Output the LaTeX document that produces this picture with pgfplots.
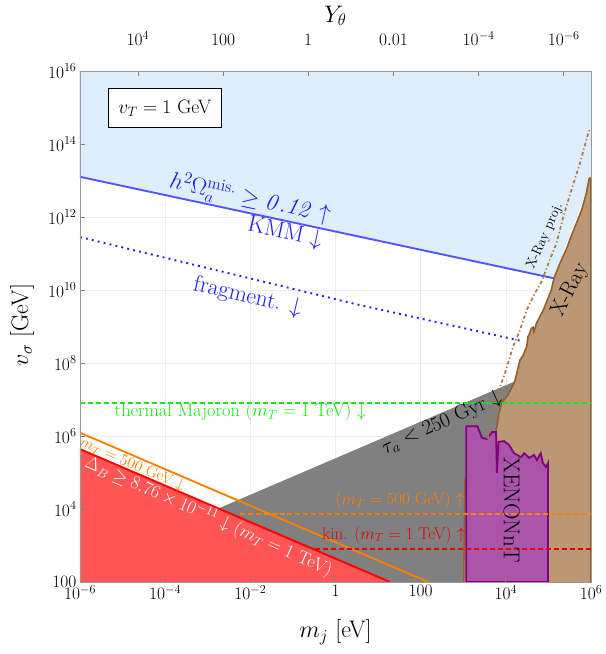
\RequirePackage{fix-cm}
\documentclass[border=0pt]{standalone}
\usepackage{pgfplots}
\pgfplotsset{compat=1.18}

\definecolor{skyfill}{RGB}{222,238,252}
\definecolor{kmmblue}{RGB}{85,85,255}
\definecolor{txtblue}{RGB}{30,30,240}
\definecolor{majgreen}{RGB}{20,235,20}
\definecolor{redfill}{RGB}{255,85,85}
\definecolor{lineorange}{RGB}{255,128,0}
\definecolor{xefill}{RGB}{170,85,170}
\definecolor{xeedge}{RGB}{128,0,128}
\definecolor{xrfill}{RGB}{187,151,117}
\definecolor{xredge}{RGB}{150,95,40}
\definecolor{xrproj}{RGB}{175,120,60}
\definecolor{gridc}{RGB}{236,236,236}

\newcommand\fs[1]{\fontsize{#1}{#1}\selectfont}

\begin{document}
\begin{tikzpicture}
\path[use as bounding box] (0,0) rectangle (606bp,654bp);

\begin{axis}[
  at={(80bp,72bp)}, anchor=south west,
  scale only axis, width=511bp, height=511bp,
  xmode=log, ymode=log,
  xmin=1e-6, xmax=1e6, ymin=100, ymax=1e16,
  axis on top,
  xtick={1e-6,1e-4,1e-2,1,100,1e4,1e6},
  xticklabels={$10^{-6}$,$10^{-4}$,$10^{-2}$,$1$,$100$,$10^{4}$,$10^{6}$},
  ytick={1e2,1e4,1e6,1e8,1e10,1e12,1e14,1e16},
  yticklabels={$100$,$10^{4}$,$10^{6}$,$10^{8}$,$10^{10}$,$10^{12}$,$10^{14}$,$10^{16}$},
  xtick pos=bottom, ytick pos=left,
  tick align=inside, major tick length=5bp, minor tick length=0pt,
  tick style={gray, line width=0.7pt},
  axis line style={gray!80, line width=0.9pt},
  tick label style={font=\fs{17.5}},
  xlabel={$m_j$ [eV]}, ylabel={$v_\sigma$ [GeV]},
  label style={font=\fs{24}},
  xlabel style={at={(axis description cs:0.5,-0.098)}, anchor=center},
  ylabel style={at={(axis description cs:-0.113,0.503)}, anchor=center},
]
% grid behind everything
\pgfplotsinvokeforeach{1e-4,1e-2,1,100,1e4}{\draw[gridc, line width=0.6pt] (axis cs:#1,100) -- (axis cs:#1,1e16);}
\pgfplotsinvokeforeach{1e4,1e6,1e8,1e10,1e12,1e14}{\draw[gridc, line width=0.6pt] (axis cs:1e-6,#1) -- (axis cs:1e6,#1);}

% misalignment (KMM) region
\addplot[fill=skyfill, draw=none] coordinates {
  (1e-6,1e16) (1e6,1e16) (1e6,1.17e13) (1.35e5,2.09e10) (1e-6,1.259e13)
};

% lifetime region
\addplot[fill=gray, draw=none] coordinates {
  (1e-3,7.76e3) (1.62e4,3.13e7) (1.62e4,100) (1e-3,100)
};

% washout region
\addplot[fill=redfill, draw=none] coordinates {
  (1e-6,100) (1e-6,4.37e5) (19.05,100)
};
\addplot[red, line width=1.9pt] coordinates {(1e-6,4.37e5) (19.05,100)};

% m_T = 500 GeV
\addplot[lineorange, line width=1.9pt] coordinates {(1e-6,1.23e6) (151,100)};

% X-Ray
\addplot[fill=xrfill, draw=xredge, line width=1.6pt] coordinates {
  (1023,100) (1096,6.17e4) (2455,4.17e5) (5495,9.33e5) (6166,1.78e6)
  (6918,4.27e6) (7943,7.94e6) (1.12e4,1.32e7) (1.62e4,3.09e7) (2.14e4,1.20e8)
  (2.57e4,1.66e8) (3.09e4,2.82e8) (3.31e4,5.25e8) (3.63e4,6.46e8) (3.98e4,8.91e8)
  (4.37e4,9.55e8) (4.57e4,7.24e8) (5.25e4,1.23e9) (7.59e4,2.82e9) (1.17e5,1e10)
  (1.35e5,2.09e10) (1.86e5,5.37e10) (2.69e5,1.38e11) (3.16e5,2.34e11)
  (6.03e5,1.55e12) (7.76e5,4.47e12) (9.12e5,1.15e13) (1e6,1.17e13) (1e6,100)
};

% XENONnT
\addplot[fill=xefill, draw=xeedge, line width=1.8pt] coordinates {
  (1175,100) (1175,1.86e6) (2138,1.86e6) (2754,8.91e5) (3631,8.32e5)
  (4786,1.29e6) (5888,1.29e6) (6166,9.77e4) (6761,6.92e5) (9120,7.24e5)
  (1.20e4,5.62e5) (1.55e4,3.39e5) (2.29e4,2.63e5) (2.69e4,3.39e5)
  (3.55e4,2.51e5) (4.57e4,3.02e5) (5.37e4,2.19e5) (6.61e4,3.39e5)
  (7.41e4,1.82e5) (8.71e4,1.41e5) (9.77e4,1.82e5) (9.77e4,100) (1175,100)
};

% X-Ray projection
\addplot[xrproj, line width=1.7pt, dash pattern=on 3.5pt off 2.5pt on 1.2pt off 2.5pt] coordinates {
  (3802,8.32e5) (4169,1.78e6) (5012,4.17e6) (6607,1.62e7) (9550,5.25e7)
  (1.48e4,2.82e8) (2.14e4,7.94e8) (3.09e4,2.82e9) (4.79e4,8.13e9)
  (6.92e4,1.70e10) (1.07e5,6.61e10) (1.55e5,1.91e11) (2.24e5,1.02e12)
  (3.47e5,5.50e12) (5.50e5,2.95e13) (7.76e5,1.29e14) (9.12e5,2.40e14)
};

% KMM line
\addplot[kmmblue, line width=1.9pt] coordinates {(1e-6,1e16) (1e-6,1.259e13) (1.35e5,2.09e10)};
% fragmentation
\addplot[txtblue, line width=1.9pt, dash pattern=on 1.9pt off 4.2pt] coordinates {
  (1e-6,2.82e11) (3.63,3.89e9) (2.4e4,3.98e8)
};
% thermal Majoron
\addplot[majgreen, line width=1.9pt, dash pattern=on 5pt off 3pt] coordinates {(1e-6,7.94e6) (1e6,7.94e6)};
% kinetic bounds
\addplot[lineorange, line width=1.7pt, dash pattern=on 5pt off 3pt] coordinates {(5.62e-3,7.16e3) (1e6,7.16e3)};
\addplot[red!90!black, line width=1.7pt, dash pattern=on 5pt off 3pt] coordinates {(0.324,813) (1e6,813)};

% labels
\node[draw=black, fill=white, line width=1pt, minimum width=113bp, minimum height=39bp, font=\fs{19.5}]
  at (rel axis cs:0.166,0.928) {$v_T = 1$ GeV};
\node[txtblue, rotate=-12, font=\fs{23.5}] at (rel axis cs:0.333,0.751)
  {$h^2\Omega_a^{\mathrm{mis.}} \geq \mathit{0.12}\uparrow$};
\node[txtblue, rotate=-12, font=\fs{23.5}] at (rel axis cs:0.401,0.683) {KMM $\downarrow$};
\node[txtblue, rotate=-13, font=\fs{23.5}] at (rel axis cs:0.328,0.558) {fragment. $\downarrow$};
\node[majgreen, font=\fs{18.5}] at (rel axis cs:0.314,0.333) {thermal Majoron ($m_T = 1$ TeV) $\downarrow$};
\node[black, rotate=24, font=\fs{21}] at (rel axis cs:0.708,0.311) {$\tau_a < 250$ Gyr $\downarrow$};
\node[black, rotate=63, font=\fs{22}] at (rel axis cs:0.959,0.571) {X-Ray};
\node[black, rotate=66, font=\fs{14}] at (rel axis cs:0.910,0.677) {X-Ray proj.};
\node[black, rotate=-90, font=\fs{23}] at (rel axis cs:0.845,0.141) {XENONnT};
\node[lineorange, font=\fs{17}] at (rel axis cs:0.626,0.160) {($m_T = 500$ GeV) $\uparrow$};
\node[red!90!black, font=\fs{17}] at (rel axis cs:0.614,0.092) {kin. ($m_T = 1$ TeV) $\uparrow$};
\node[lineorange, rotate=-23.5, font=\fs{16}] at (rel axis cs:0.102,0.230) {$m_T = 500$ GeV $\downarrow$};
\node[white, rotate=-24, font=\fs{18.5}] at (rel axis cs:0.252,0.128)
  {$\Delta_B \geq 8.76\times 10^{-11}\downarrow$ ($m_T = 1$ TeV)};
\end{axis}

% top axis: Y_theta
\begin{axis}[
  at={(80bp,72bp)}, anchor=south west,
  scale only axis, width=511bp, height=511bp,
  xmode=log, x dir=reverse,
  xmin=2.29e-7, xmax=2.29e5, ymin=0, ymax=1,
  axis x line*=top, axis y line=none,
  xtick={1e4,100,1,0.01,1e-4,1e-6},
  xticklabels={$10^{4}$,$100$,$1$,$0.01$,$10^{-4}$,$10^{-6}$},
  tick align=inside, major tick length=5bp, minor tick length=0pt,
  tick style={gray, line width=0.7pt},
  axis line style={gray!80, line width=0.9pt},
  tick label style={font=\fs{17.5}},
  xticklabel style={yshift=22bp},
  xlabel={$Y_\theta$},
  label style={font=\fs{24}},
  xlabel style={at={(axis description cs:0.5,1.108)}, anchor=center},
]
\end{axis}
\end{tikzpicture}
\end{document}
